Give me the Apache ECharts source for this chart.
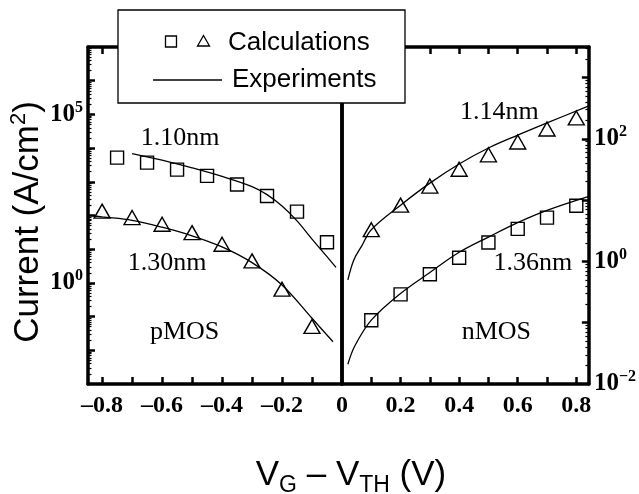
<!DOCTYPE html>
<html>
<head>
<meta charset="utf-8">
<script src="https://cdn.jsdelivr.net/npm/echarts@6/dist/echarts.min.js"></script>
<style>
  html, body { margin: 0; padding: 0; background: #fff; }
  #myChart { width: 639px; height: 494px; }
</style>
</head>
<body>
<div id="myChart"></div>
<script>
// pMOS side (VG - VTH in V, current in A/cm2)
var pSqX = [-0.75, -0.65, -0.55, -0.45, -0.35, -0.25, -0.15, -0.05];
var pCalc110 = [5200, 3700, 2300, 1500, 830, 380, 130, 16];
var pTriX = [-0.8, -0.7, -0.6, -0.5, -0.4, -0.3, -0.2, -0.1];
var pCalc130 = [135, 87, 55, 31, 14, 4.5, 0.65, 0.051];
var pExp110X = [-0.70, -0.60, -0.50, -0.40, -0.30, -0.25, -0.20, -0.15, -0.10, -0.05, -0.02];
var pExp110 = [6900, 4400, 2600, 1450, 724, 417, 191, 69, 20, 6.0, 2.9];
var pExp130X = [-0.845, -0.8, -0.7, -0.6, -0.5, -0.4, -0.3, -0.2, -0.1, -0.03];
var pExp130 = [102, 91, 72, 45, 25, 11.7, 4.0, 0.87, 0.089, 0.018];

// nMOS side
var nX = [0.1, 0.2, 0.3, 0.4, 0.5, 0.6, 0.7, 0.8];
var nCalc114 = [3.3, 8.3, 17, 32, 55, 89, 145, 220];
var nCalc136 = [0.11, 0.29, 0.62, 1.15, 2.04, 3.4, 5.2, 8.1];
var nExp114X = [0.02, 0.04, 0.067, 0.1, 0.2, 0.3, 0.4, 0.5, 0.6, 0.7, 0.843];
var nExp114 = [0.50, 1.05, 1.78, 3.3, 8.3, 19, 39, 71, 115, 182, 347];
var nExp136X = [0.02, 0.044, 0.1, 0.2, 0.3, 0.4, 0.5, 0.6, 0.7, 0.843];
var nExp136 = [0.021, 0.042, 0.11, 0.30, 0.66, 1.41, 2.5, 4.3, 6.8, 11.5];

// text labels inside the plot
var pNotes = ['1.10nm', '1.30nm', 'pMOS'];
var pNoteX = [-0.54, -0.583, -0.525];
var pNoteY = [19500, 3.9, 0.035];
var nNotes = ['1.14nm', '1.36nm', 'nMOS'];
var nNoteX = [0.537, 0.652, 0.527];
var nNoteY = [275, 0.95, 0.071];

// ticks
var pTicks = [-0.8, -0.7, -0.6, -0.5, -0.4, -0.3, -0.2, -0.1];
var pLabels = [-0.8, -0.6, -0.4, -0.2];
var nTicks = [0.1, 0.2, 0.3, 0.4, 0.5, 0.6, 0.7, 0.8];
var nLabels = [0, 0.2, 0.4, 0.6, 0.8];
var leftDecades = [-2, -1, 0, 1, 2, 3, 4, 5, 6];
var leftLabels = [0, 5];
var rightDecades = [-1, 0, 1, 2, 3];
var rightLabels = [-2, 0, 2];

function pts(xs, ys) {
    var out = [];
    for (var i = 0; i < xs.length; i++) out.push([xs[i], Math.log10(ys[i])]);
    return out;
}
function notes(names, xs, ys) {
    var out = [];
    for (var i = 0; i < names.length; i++) out.push({ name: names[i], value: [xs[i], Math.log10(ys[i])] });
    return out;
}
function minors(from, to, top) {
    var out = [];
    for (var n = from; n < to; n++) {
        for (var k = 2; k <= 9; k++) {
            var v = n + Math.log10(k);
            if (v < top) out.push(v);
        }
    }
    return out;
}

var serif = 'Liberation Serif';
var sans = 'Liberation Sans';
var frame = { show: true, onZero: false, lineStyle: { color: '#000', width: 3.5 } };
var powRich = {
    b: { fontFamily: serif, fontWeight: 'bold', fontSize: 25, lineHeight: 30, color: '#000' },
    s: { fontFamily: serif, fontWeight: 'bold', fontSize: 16, lineHeight: 16, verticalAlign: 'top', color: '#000' }
};
function powLabel(v) {
    var e = Math.round(v);
    return '{b|10}{s|' + (e < 0 ? '\u2212' + (-e) : e) + '}';
}

function xAx(grid, pos, min, max, ticks, labels) {
    return {
        type: 'value', gridIndex: grid, position: pos, min: min, max: max,
        axisLine: frame,
        axisTick: { show: true, inside: true, length: 7, customValues: ticks, lineStyle: { color: '#000', width: 2.5 } },
        axisLabel: labels ? {
            show: true, customValues: labels, margin: 10, color: '#000',
            fontFamily: serif, fontWeight: 'bold', fontSize: 24,
            formatter: function (v) { return v === 0 ? '0' : (v < 0 ? '\u2013' : '') + Math.abs(v).toFixed(1); }
        } : { show: false },
        splitLine: { show: false }
    };
}
function yAx(grid, pos, min, max, ticks, labels, minorVals) {
    var ax = {
        type: 'value', gridIndex: grid, position: pos, min: min, max: max,
        axisLine: minorVals ? { show: false, onZero: false } : frame,
        axisTick: { show: false },
        axisLabel: { show: false },
        splitLine: { show: false }
    };
    if (ticks) ax.axisTick = { show: true, inside: true, length: 7, customValues: ticks, lineStyle: { color: '#000', width: 2.5 } };
    if (minorVals) ax.axisTick = { show: true, inside: true, length: 3.5, customValues: minorVals, lineStyle: { color: '#000', width: 1.2 } };
    if (labels) ax.axisLabel = { show: true, customValues: labels, margin: 5, formatter: powLabel, rich: powRich };
    return ax;
}

var lineStyle = { color: '#000', width: 1.3 };
var markStyle = { color: 'transparent', borderColor: '#000', borderWidth: 1.4, opacity: 1 };
function expSeries(xi, yi, data) {
    return { type: 'line', xAxisIndex: xi, yAxisIndex: yi, data: data, showSymbol: false, smooth: 0.35,
             lineStyle: lineStyle, silent: true, z: 2 };
}
function calcSeries(xi, yi, data, symbol, size) {
    return { type: 'scatter', xAxisIndex: xi, yAxisIndex: yi, data: data, symbol: symbol, symbolSize: size,
             itemStyle: markStyle, silent: true, z: 3 };
}
function noteSeries(xi, yi, data) {
    return { type: 'scatter', xAxisIndex: xi, yAxisIndex: yi, data: data, symbolSize: 1,
             itemStyle: { color: 'transparent', opacity: 1 }, silent: true, z: 4,
             label: { show: true, position: 'inside', formatter: '{b}', color: '#000', opacity: 1,
                      textBorderWidth: 0, fontFamily: serif, fontSize: 26 } };
}

var c = document.getElementById('myChart');
var myChart = echarts.init(c, null, { renderer: 'canvas' });
myChart.setOption({
    backgroundColor: '#fff',
    animation: false,
    grid: [
        { left: 88, top: 47, width: 254, height: 337 },
        { left: 342, top: 47, width: 253, height: 337 }
    ],
    xAxis: [
        xAx(0, 'bottom', -0.847, 0, pTicks, pLabels),
        xAx(0, 'top', -0.847, 0, pTicks, null),
        xAx(1, 'bottom', 0, 0.843, nTicks, nLabels),
        xAx(1, 'top', 0, 0.843, nTicks, null)
    ],
    yAxis: [
        yAx(0, 'left', -3, 7, leftDecades, leftLabels, null),
        yAx(0, 'left', -3, 7, null, null, minors(-3, 7, 7)),
        yAx(0, 'right', -3, 7, null, null, null),
        yAx(1, 'left', -2, 3.5, null, null, null),
        yAx(1, 'right', -2, 3.5, rightDecades, rightLabels, null),
        yAx(1, 'right', -2, 3.5, null, null, minors(-2, 4, 3.5))
    ],
    series: [
        expSeries(0, 0, pts(pExp110X, pExp110)),
        expSeries(0, 0, pts(pExp130X, pExp130)),
        calcSeries(0, 0, pts(pSqX, pCalc110), 'rect', 13),
        calcSeries(0, 0, pts(pTriX, pCalc130), 'triangle', [16, 14]),
        noteSeries(0, 0, notes(pNotes, pNoteX, pNoteY)),
        expSeries(2, 4, pts(nExp114X, nExp114)),
        expSeries(2, 4, pts(nExp136X, nExp136)),
        calcSeries(2, 4, pts(nX, nCalc114), 'triangle', [16, 14]),
        calcSeries(2, 4, pts(nX, nCalc136), 'rect', 13),
        noteSeries(2, 4, notes(nNotes, nNoteX, nNoteY))
    ],
    graphic: [
        { type: 'rect', z: 100, shape: { x: 118, y: 10, width: 287, height: 93 },
          style: { fill: '#fff', stroke: '#000', lineWidth: 1.3 } },
        { type: 'rect', z: 101, shape: { x: 165.5, y: 36, width: 11, height: 11 },
          style: { fill: 'none', stroke: '#000', lineWidth: 1.3 } },
        { type: 'polygon', z: 101, shape: { points: [[203.5, 35.5], [209.5, 46], [197.5, 46]] },
          style: { fill: 'none', stroke: '#000', lineWidth: 1.3 } },
        { type: 'text', z: 101, style: { x: 228, y: 43, text: 'Calculations', fill: '#000',
          font: '26px "Liberation Sans"', verticalAlign: 'middle' } },
        { type: 'line', z: 101, shape: { x1: 153, y1: 80, x2: 222, y2: 80 },
          style: { stroke: '#000', lineWidth: 1.3 } },
        { type: 'text', z: 101, style: { x: 232, y: 80, text: 'Experiments', fill: '#000',
          font: '26px "Liberation Sans"', verticalAlign: 'middle' } },
        { type: 'text', z: 101, x: 28, y: 222, rotation: Math.PI / 2,
          style: { x: 0, y: 0, text: '{a|Current (A/cm}{s|2}{a|)}', align: 'center', verticalAlign: 'middle',
            rich: {
                a: { fontFamily: sans, fontSize: 35, lineHeight: 40, color: '#000' },
                s: { fontFamily: sans, fontSize: 22, lineHeight: 22, verticalAlign: 'top', color: '#000' }
            } } },
        { type: 'text', z: 101, x: 351, y: 475,
          style: { x: 0, y: 0, text: '{a|V}{b|G}{a| \u2013 V}{b|TH}{a| (V)}', align: 'center', verticalAlign: 'middle',
            rich: {
                a: { fontFamily: sans, fontSize: 35, lineHeight: 44, color: '#000' },
                b: { fontFamily: sans, fontSize: 23, lineHeight: 23, verticalAlign: 'bottom', color: '#000' }
            } } }
    ]
});
</script>
</body>
</html>
